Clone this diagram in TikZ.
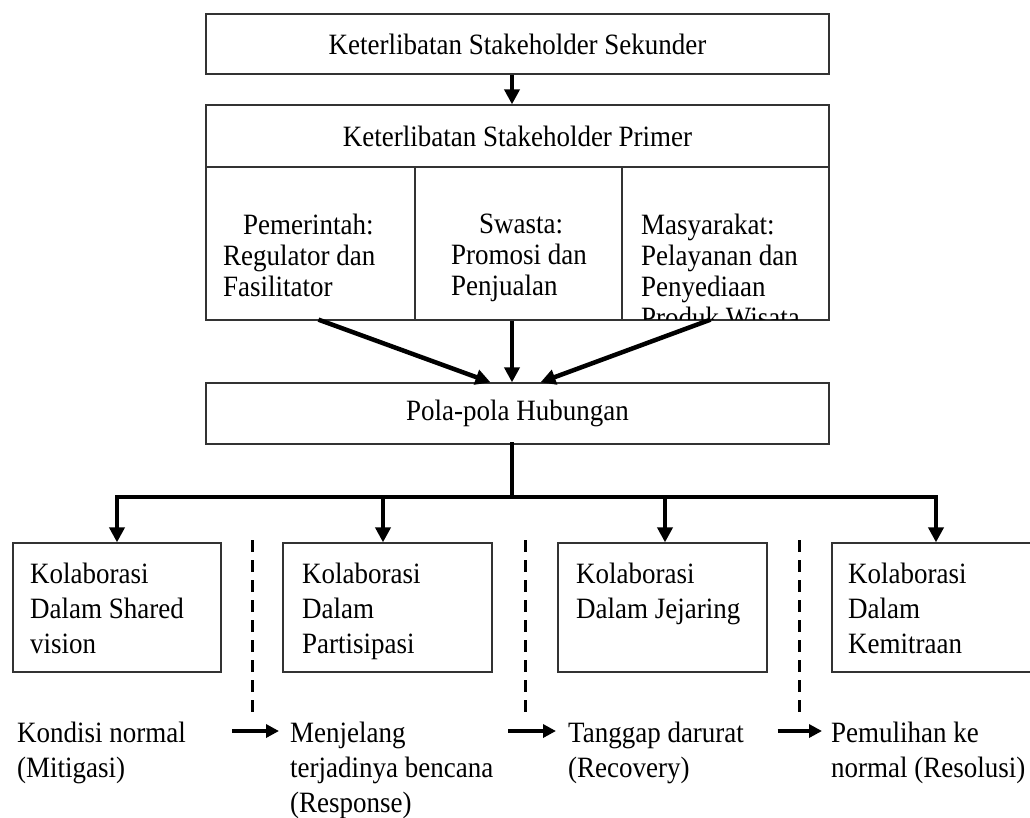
\documentclass[tikz,border=0pt]{standalone}
\usepackage{fontspec}
\setmainfont[FakeStretch=0.915]{Liberation Serif}
\usetikzlibrary{arrows.meta,calc}
\begin{document}
\begin{tikzpicture}[x=1pt,y=-1pt,
  txtfont/.style={font=\fontsize{29.5}{35}\selectfont},
  box/.style={draw=black!80, line width=1.3pt, inner sep=0pt, txtfont},
  lbl/.style={inner sep=0pt, align=left, anchor=north west, txtfont},
  cell/.style={lbl, font=\fontsize{29.5}{31}\selectfont},
  flow/.style={line width=4.5pt, -{Triangle[length=15pt,width=15pt]}},
  bus/.style={line width=4.5pt, line cap=rect},
  phase line/.style={line width=3pt, dash pattern=on 12pt off 8pt},
  phase arrow/.style={line width=4pt, -{Triangle[length=13pt,width=13pt]}}
]
\useasboundingbox (0,0) rectangle (1030,817);
\fill[white] (0,0) rectangle (1030,817);

% secondary and primary stakeholders
\node[box, minimum width=623pt, minimum height=60pt] (sek) at (517.5,44) {Keterlibatan Stakeholder Sekunder};
\node[box, minimum width=623pt, minimum height=62pt] (prim) at (517.5,136) {Keterlibatan Stakeholder Primer};
\node[box, minimum width=209pt, minimum height=153pt] (c1) at (310.5,243.5) {};
\node[box, minimum width=207pt, minimum height=153pt] (c2) at (518.5,243.5) {};
\node[box, minimum width=207pt, minimum height=153pt] (c3) at (725.5,243.5) {};

\node[cell] (c1t) at (223,214) {\hspace*{20pt}Pemerintah:\\Regulator dan\\Fasilitator};
\node[cell] (c2t) at (451,214) {\hspace*{28pt}Swasta:\\Promosi dan\\Penjualan};
\begin{scope}
  \clip (622,167) rectangle (829,319);
  \node[cell] (c3t) at (641,214) {Masyarakat:\\Pelayanan dan\\Penyediaan\\Produk Wisata};
\end{scope}

% relation patterns
\node[box, minimum width=623pt, minimum height=61pt] (pola) at (517.5,413.5) {Pola-pola Hubungan};

\draw[flow] ([xshift=-5.5pt]sek.south) -- ([xshift=-5.5pt]prim.north);
\draw[flow] ([xshift=-200pt,yshift=1pt]c2.south) -- ([xshift=-27pt]pola.north);
\draw[flow] ([xshift=-5.5pt]pola.north |- c2.south) -- ([xshift=-5.5pt]pola.north);
\draw[flow] ([xshift=192pt,yshift=1pt]c2.south) -- ([xshift=23pt]pola.north);

% collaboration forms
\node[box, minimum width=208pt, minimum height=129pt] (k1) at (117,607.5) {};
\node[box, minimum width=209pt, minimum height=129pt] (k2) at (387.5,607.5) {};
\node[box, minimum width=209pt, minimum height=129pt] (k3) at (662.5,607.5) {};
\node[box, minimum width=208pt, minimum height=129pt] (k4) at (936,607.5) {};

\node[lbl] (k1t) at (30,563) {Kolaborasi\\Dalam Shared\\vision};
\node[lbl] (k2t) at (302,563) {Kolaborasi\\Dalam\\Partisipasi};
\node[lbl] (k3t) at (576,563) {Kolaborasi\\Dalam Jejaring};
\node[lbl] (k4t) at (848,563) {Kolaborasi\\Dalam\\Kemitraan};

\coordinate (b0) at (512,497);
\coordinate (b1) at (117,497);
\coordinate (b2) at (383,497);
\coordinate (b3) at (665,497);
\coordinate (b4) at (936,497);
\draw[bus] ([xshift=-5.5pt]pola.south) -- (b0);
\draw[bus] (b1) -- (b4);
\draw[flow] (b1) -- (b1 |- k1.north);
\draw[flow] (b2) -- (b2 |- k2.north);
\draw[flow] (b3) -- (b3 |- k3.north);
\draw[flow] (b4) -- (b4 |- k4.north);

% disaster phases
\node[lbl] (p1) at (17,722) {Kondisi normal\\(Mitigasi)};
\node[lbl] (p2) at (290,722) {Menjelang\\terjadinya bencana\\(Response)};
\node[lbl] (p3) at (568,722) {Tanggap darurat\\(Recovery)};
\node[lbl] (p4) at (831,722) {Pemulihan ke\\normal (Resolusi)};

\coordinate (d1) at ($(k1.north east)!0.5!(k2.north west)$);
\coordinate (d2) at ($(k2.north east)!0.5!(k3.north west)$);
\coordinate (d3) at ($(k3.north east)!0.5!(k4.north west)$);
\draw[phase line] ([yshift=2pt]d1) -- ++(0,178);
\draw[phase line] ([yshift=2pt]d2) -- ++(0,178);
\draw[phase line] ([yshift=2pt]d3) -- ++(0,178);

\coordinate (s1) at ([xshift=-20pt]d1 |- 0,731);
\coordinate (s2) at ([xshift=-17pt]d2 |- 0,731);
\coordinate (s3) at ([xshift=-22pt]d3 |- 0,731);
\draw[phase arrow, shorten >=11pt] (s1) -- (s1 -| p2.west);
\draw[phase arrow, shorten >=12pt] (s2) -- (s2 -| p3.west);
\draw[phase arrow, shorten >=9pt] (s3) -- (s3 -| p4.west);
\end{tikzpicture}
\end{document}
